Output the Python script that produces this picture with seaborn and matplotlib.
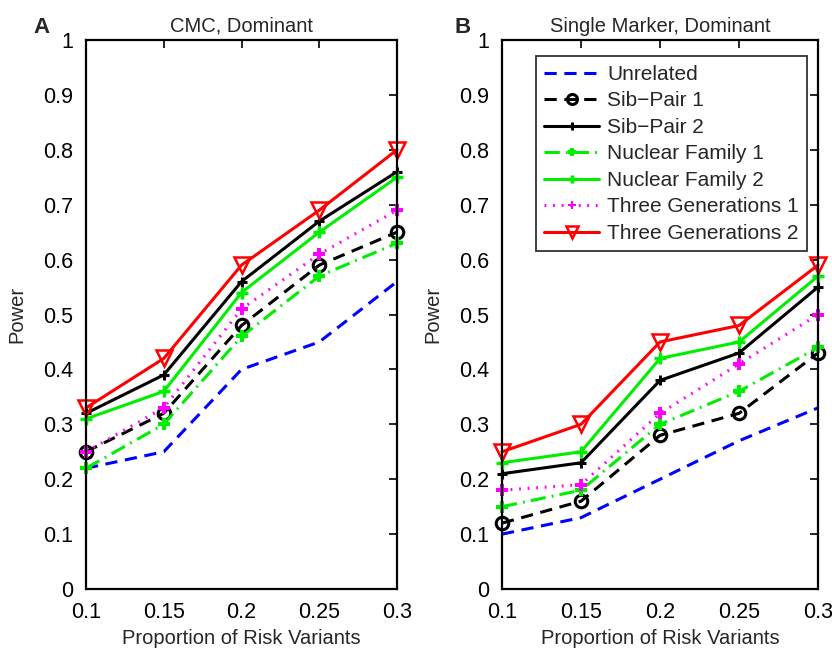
import matplotlib
matplotlib.use("Agg")
import matplotlib.pyplot as plt
import seaborn as sns
import pandas as pd

sns.set_theme(style="white")
plt.rcParams["font.family"] = ["Liberation Sans", "DejaVu Sans"]

proportions = [0.1, 0.15, 0.2, 0.25, 0.3]
series_names = ["Unrelated", "Sib\u2212Pair 1", "Sib\u2212Pair 2", "Nuclear Family 1",
                "Nuclear Family 2", "Three Generations 1", "Three Generations 2"]

# Power, CMC test, dominant model
cmc_unrelated = [0.22, 0.25, 0.40, 0.45, 0.56]
cmc_sibpair1 = [0.25, 0.32, 0.48, 0.59, 0.65]
cmc_sibpair2 = [0.32, 0.39, 0.56, 0.67, 0.76]
cmc_nuclear1 = [0.22, 0.30, 0.46, 0.57, 0.63]
cmc_nuclear2 = [0.31, 0.36, 0.54, 0.65, 0.75]
cmc_threegen1 = [0.25, 0.33, 0.51, 0.61, 0.69]
cmc_threegen2 = [0.33, 0.42, 0.59, 0.69, 0.80]

# Power, single-marker test, dominant model
sm_unrelated = [0.10, 0.13, 0.20, 0.27, 0.33]
sm_sibpair1 = [0.12, 0.16, 0.28, 0.32, 0.43]
sm_sibpair2 = [0.21, 0.23, 0.38, 0.43, 0.55]
sm_nuclear1 = [0.15, 0.18, 0.30, 0.36, 0.44]
sm_nuclear2 = [0.23, 0.25, 0.42, 0.45, 0.57]
sm_threegen1 = [0.18, 0.19, 0.32, 0.41, 0.50]
sm_threegen2 = [0.25, 0.30, 0.45, 0.48, 0.59]

cmc_values = [cmc_unrelated, cmc_sibpair1, cmc_sibpair2, cmc_nuclear1,
              cmc_nuclear2, cmc_threegen1, cmc_threegen2]
sm_values = [sm_unrelated, sm_sibpair1, sm_sibpair2, sm_nuclear1,
             sm_nuclear2, sm_threegen1, sm_threegen2]

styles = [
    dict(color="#0000ff", ls=(0, (4, 2.5)), marker=None, ms=0, mew=0, mfc="none"),
    dict(color="black", ls=(0, (4, 2.5)), marker="o", ms=9, mew=2.2, mfc="none"),
    dict(color="black", ls="-", marker="+", ms=7, mew=2.2, mfc="none"),
    dict(color="#00ee00", ls=(0, (5, 2, 0.6, 2)), marker="+", ms=8, mew=3, mfc="none"),
    dict(color="#00ee00", ls="-", marker="+", ms=8, mew=2.5, mfc="none"),
    dict(color="#ff00ff", ls=(0, (0.6, 2.2)), marker="P", ms=8, mew=0, mfc="#ff00ff"),
    dict(color="#ff0000", ls="-", marker="v", ms=11, mew=1.8, mfc="none"),
]

fig = plt.figure(figsize=(8.32, 6.56), dpi=100)
ax_a = fig.add_axes([0.1034, 0.1021, 0.3738, 0.8369])
ax_b = fig.add_axes([0.6034, 0.1021, 0.3798, 0.8369])


def draw_panel(ax, values, title):
    for name, vals, st in zip(series_names, values, styles):
        df = pd.DataFrame({"x": proportions, "y": vals})
        sns.lineplot(data=df, x="x", y="y", ax=ax, color=st["color"],
                     linestyle=st["ls"], linewidth=2.2,
                     marker=st["marker"], markersize=st["ms"],
                     markeredgewidth=st["mew"], markerfacecolor=st["mfc"],
                     markeredgecolor=st["color"], label=name, clip_on=False)
    ax.set_xlim(0.1, 0.3)
    ax.set_ylim(0, 1)
    ax.set_xticks(proportions)
    ax.set_xticklabels(["0.1", "0.15", "0.2", "0.25", "0.3"])
    yt = [i / 10 for i in range(11)]
    ax.set_yticks(yt)
    ax.set_yticklabels(["0"] + [f"{v:.1f}" for v in yt[1:-1]] + ["1"])
    ax.tick_params(direction="in", length=6, width=1.2, top=True, right=True,
                   labelsize=15.5, colors="black")
    ax.tick_params(axis="x", pad=9)
    ax.tick_params(axis="y", pad=9)
    for sp in ax.spines.values():
        sp.set_color("black")
        sp.set_linewidth(1.6)
    ax.set_xlabel("Proportion of Risk Variants", fontsize=14.5, labelpad=5)
    ax.set_ylabel("Power", fontsize=14.5, labelpad=12)
    ax.set_title(title, fontsize=14.5, pad=6)


draw_panel(ax_a, cmc_values, "CMC, Dominant")
draw_panel(ax_b, sm_values, "Single Marker, Dominant")

ax_a.get_legend().remove()
leg = ax_b.legend(loc="upper left", bbox_to_anchor=(0.108, 0.970), fontsize=15,
                  frameon=True, fancybox=False, edgecolor="black",
                  handlelength=2.6, handletextpad=0.4, borderpad=0.4,
                  labelspacing=0.36, borderaxespad=0)
leg.get_frame().set_linewidth(1.3)
for h in leg.legend_handles:
    h.set_markersize(h.get_markersize() * 0.8)

fig.text(0.050, 0.958, "A", fontsize=16, fontweight="bold", ha="center", va="center")
fig.text(0.556, 0.958, "B", fontsize=16, fontweight="bold", ha="center", va="center")

fig.savefig("out.png", dpi=100)
